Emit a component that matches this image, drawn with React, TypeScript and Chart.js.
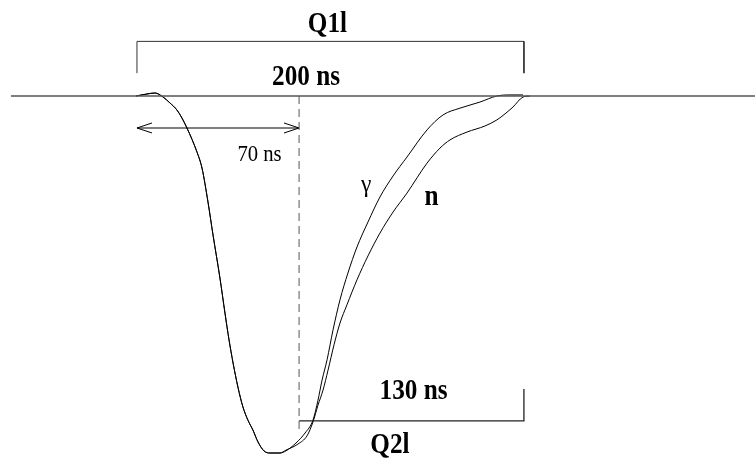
import React, { useEffect, useRef } from "react";
import { Chart, registerables } from "chart.js";

Chart.register(...registerables);

// Time in ns, amplitude in % of the pulse depth (0 = baseline, -100 = minimum)
const commonTime = [0, 5.7, 9.8, 14.0, 17.6, 21.2, 23.8, 26.4, 31.6, 34.2, 37.3, 39.9, 43.5, 46.1, 48.2, 50.3, 52.8, 55.4, 58.0, 60.6, 63.2, 66.3, 69.4, 74.6];
const commonAmp = [0, 0.56, 0.84, -0.28, -1.96, -3.92, -6.16, -8.96, -15.7, -20.2, -29.7, -38.9, -51.0, -60.8, -68.3, -74.8, -81.5, -87.1, -90.8, -93.6, -96.9, -99.4, -100, -100];

const gammaTime = [77.7, 82.9, 87.6, 91.7, 94.3, 96.4, 99.0, 102.1, 105.7, 109.8, 114.5, 120.2, 126.4, 133.2, 140.4, 150.8, 159.1, 167.9, 178.2, 187.0, 193.8, 200.5];
const gammaAmp = [-99.4, -97.2, -94.4, -90.8, -85.2, -79.6, -73.9, -65.5, -57.1, -49.6, -42.3, -35.3, -28.3, -22.4, -17.1, -9.5, -5.3, -3.4, -1.7, 0, 0.3, 0.3];

const neutronTime = [77.7, 83.9, 88.6, 91.7, 94.3, 96.9, 99.5, 102.6, 105.7, 109.3, 114.5, 120.2, 126.4, 133.2, 140.4, 150.8, 157.5, 162.7, 171.5, 180.8, 187.0, 191.2, 195.3, 200.5, 204.1];
const neutronAmp = [-99.2, -97.5, -95.2, -91.3, -86.6, -82.4, -76.8, -69.7, -63.6, -58.5, -51.5, -44.8, -38.4, -32.5, -27.2, -18.8, -14.6, -12.3, -10.1, -8.4, -6.7, -5.0, -3.1, -0.3, 0];

// Annotation geometry (ns / amplitude)
const baselineTime = [-64.8, 330];
const longGateTime = [0.5, 201];
const longGateAmp = [6.4, 15.3];
const splitTime = 84.5;
const splitAmpEnd = -94.4;
const arrowAmp = -8.96;
const arrowHead = [7.8, 1.4];
const tailGateAmp = [-82.1, -91.0];

const labelTexts = ["Q1l", "200 ns", "70 ns", "\u03b3", "n", "130 ns", "Q2l"];
const labelTime = [99.2, 88.1, 64.0, 119.2, 153.1, 143.8, 131.6];
const labelAmp = [17.9, 3.1, -18.2, -26.9, -30.5, -84.9, -100];
const labelBold = [true, true, false, false, true, true, true];
const labelSize = [29, 29, 23, 26, 29, 29, 29];

const pts = (xs: number[], ys: number[]) => xs.map((x, i) => ({ x, y: ys[i] }));

export default function App() {
  const ref = useRef<HTMLCanvasElement | null>(null);

  useEffect(() => {
    const canvas = ref.current;
    if (!canvas) return;

    const line = (data: { x: number; y: number }[], color = "#000", width = 1, smooth = false, dash: number[] = []) => ({
      type: "scatter" as const,
      data,
      showLine: true,
      borderColor: color,
      borderWidth: width,
      borderDash: dash,
      pointRadius: 0,
      tension: smooth ? 0.4 : 0,
      cubicInterpolationMode: smooth ? ("monotone" as const) : ("default" as const),
      fill: false,
    });

    const labelPlugin = {
      id: "labels",
      afterDatasetsDraw(chart: any) {
        const ctx = chart.ctx as CanvasRenderingContext2D;
        const xs = chart.scales.x;
        const ys = chart.scales.y;
        labelTexts.forEach((t, i) => {
          const px = xs.getPixelForValue(labelTime[i]);
          const py = ys.getPixelForValue(labelAmp[i]);
          ctx.save();
          ctx.translate(px, py);
          ctx.scale(labelBold[i] ? 0.87 : 0.9, 1);
          ctx.font = `${labelBold[i] ? "bold " : ""}${labelSize[i]}px 'Liberation Serif', 'Times New Roman', serif`;
          ctx.fillStyle = "#000";
          ctx.textAlign = "center";
          ctx.textBaseline = "alphabetic";
          ctx.fillText(t, 0, 0);
          ctx.restore();
        });
      },
    };

    const chart = new Chart(canvas, {
      type: "scatter",
      data: {
        datasets: [
          line(pts(baselineTime, [0, 0]), "#555", 1.5),
          line(
            pts(
              [longGateTime[0], longGateTime[0], longGateTime[1], longGateTime[1]],
              [longGateAmp[0], longGateAmp[1], longGateAmp[1], longGateAmp[0]]
            ),
            "#333",
            1
          ),
          line(pts([splitTime, splitTime], [0, splitAmpEnd]), "#555", 1, false, [8, 5]),
          line(pts([longGateTime[0], splitTime], [arrowAmp, arrowAmp]), "#000", 1.2),
          line(
            pts(
              [longGateTime[0] + arrowHead[0], longGateTime[0], longGateTime[0] + arrowHead[0]],
              [arrowAmp + arrowHead[1], arrowAmp, arrowAmp - arrowHead[1]]
            ),
            "#000",
            1
          ),
          line(
            pts(
              [splitTime - arrowHead[0], splitTime, splitTime - arrowHead[0]],
              [arrowAmp + arrowHead[1], arrowAmp, arrowAmp - arrowHead[1]]
            ),
            "#000",
            1
          ),
          line(
            pts([splitTime, longGateTime[1], longGateTime[1]], [tailGateAmp[1], tailGateAmp[1], tailGateAmp[0]]),
            "#222",
            1.3
          ),
          line(pts(commonTime.concat(gammaTime), commonAmp.concat(gammaAmp)), "#000", 1, true),
          line(pts(commonTime.concat(neutronTime), commonAmp.concat(neutronAmp)), "#000", 1, true),
        ],
      },
      options: {
        animation: false,
        responsive: false,
        devicePixelRatio: 1,
        layout: { padding: 0 },
        plugins: { legend: { display: false }, tooltip: { enabled: false } },
        scales: {
          x: { type: "linear", display: false, min: -70.466, max: 320.73 },
          y: { type: "linear", display: false, min: -101.96, max: 26.89 },
        },
      },
      plugins: [labelPlugin],
    } as any);

    return () => chart.destroy();
  }, []);

  return (
    <div style={{ position: "absolute", left: 0, top: 0, width: 755, height: 460, background: "#fff" }}>
      <canvas ref={ref} width={755} height={460} style={{ display: "block" }} />
    </div>
  );
}
